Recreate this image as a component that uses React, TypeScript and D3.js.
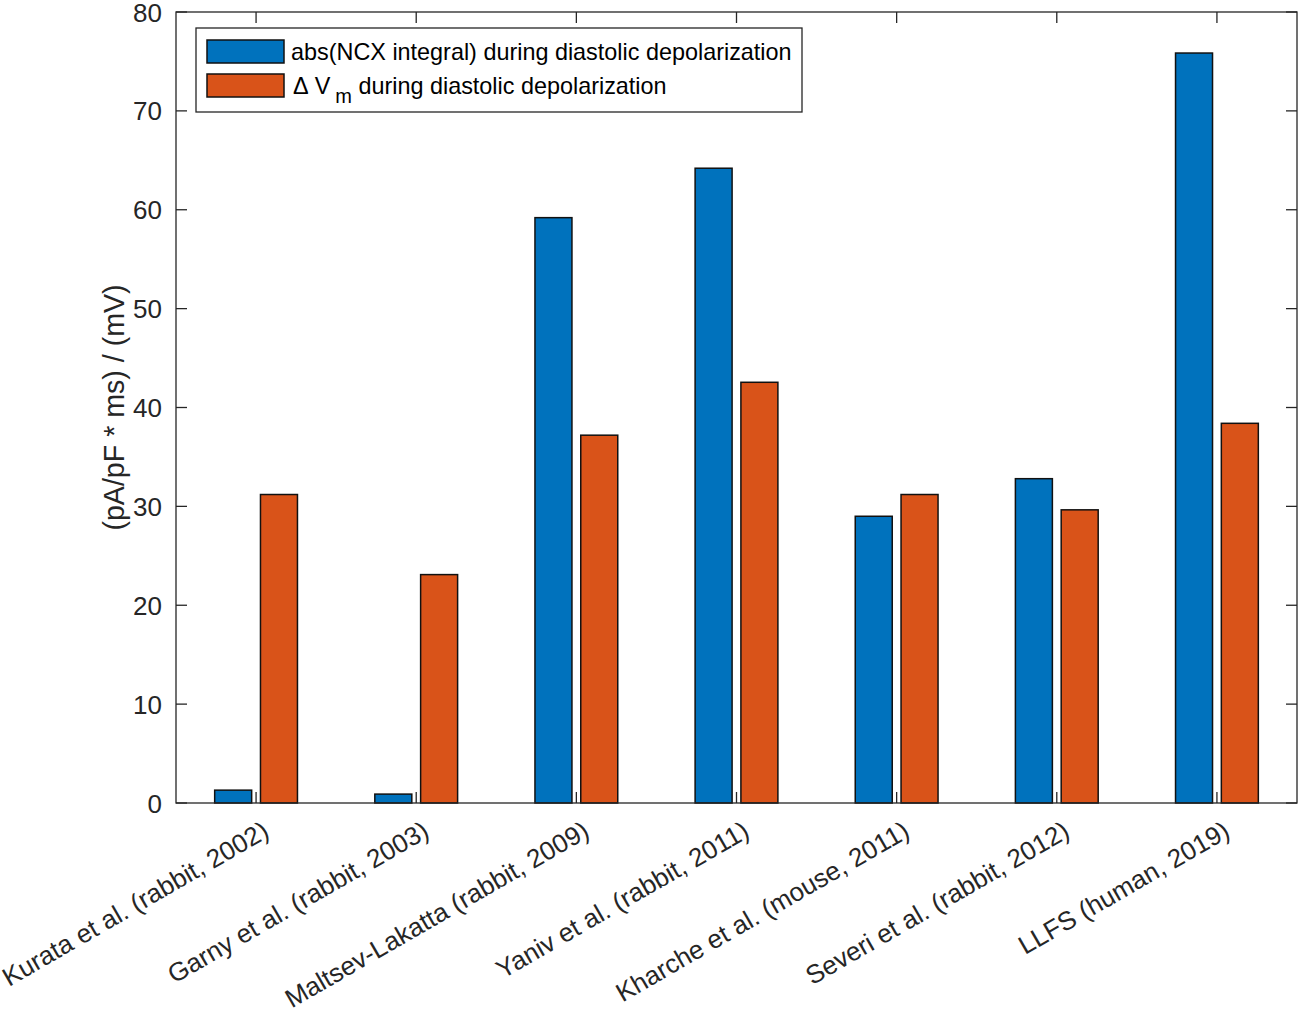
import * as d3 from 'd3';

const categories = [
  'Kurata et al. (rabbit, 2002)',
  'Garny et al. (rabbit, 2003)',
  'Maltsev-Lakatta (rabbit, 2009)',
  'Yaniv et al. (rabbit, 2011)',
  'Kharche et al. (mouse, 2011)',
  'Severi et al. (rabbit, 2012)',
  'LLFS (human, 2019)',
];

const ncxValues = [1.3, 0.9, 59.2, 64.2, 29.0, 32.8, 75.85];
const vmValues = [31.2, 23.1, 37.2, 42.55, 31.2, 29.65, 38.4];

const yTicks = [0, 10, 20, 30, 40, 50, 60, 70, 80];

const seriesNames = ['abs(NCX integral) during diastolic depolarization', 'during diastolic depolarization'];
const seriesColors = ['#0072BD', '#D95319'];

const W = 1299;
const H = 1015;
const margin = { top: 12, right: 2, bottom: 212, left: 176 };
const axisColor = '#262626';
const font = '"Liberation Sans", Arial, Helvetica, sans-serif';
const axisFont = 26;
const labelFont = 28.6;
const legendFont = 23.4;

export default function App() {
  const plotW = W - margin.left - margin.right;
  const plotH = H - margin.top - margin.bottom;

  const x = d3.scaleLinear().domain([0.5, categories.length + 0.5]).range([0, plotW]);
  const y = d3.scaleLinear().domain([0, 80]).range([plotH, 0]);

  const offset = 0.143;
  const barW = x(0.231) - x(0);
  const series = [ncxValues, vmValues];
  const tickLen = 11;

  return (
    <div style={{ position: 'absolute', left: 0, top: 0 }}>
      <svg width={W} height={H} style={{ display: 'block', background: '#fff' }} fontFamily={font}>
        <g transform={`translate(${margin.left},${margin.top})`}>
          {/* bars */}
          {series.map((vals, s) =>
            vals.map((v, i) => {
              const cx = x(i + 1 + (s === 0 ? -offset : offset));
              return (
                <rect
                  key={`${s}-${i}`}
                  x={cx - barW / 2}
                  y={y(v)}
                  width={barW}
                  height={y(0) - y(v)}
                  fill={seriesColors[s]}
                  stroke="#111"
                  strokeWidth={1.5}
                />
              );
            })
          )}

          {/* box */}
          <rect x={0} y={0} width={plotW} height={plotH} fill="none" stroke={axisColor} strokeWidth={1.3} />

          {/* y ticks */}
          {yTicks.map(t => (
            <g key={t}>
              <line x1={0} x2={tickLen} y1={y(t)} y2={y(t)} stroke={axisColor} strokeWidth={1.3} />
              <line x1={plotW} x2={plotW - tickLen} y1={y(t)} y2={y(t)} stroke={axisColor} strokeWidth={1.3} />
              <text x={-14} y={y(t)} dy="0.37em" textAnchor="end" fontSize={axisFont} fill={axisColor}>
                {t}
              </text>
            </g>
          ))}

          {/* x ticks and labels */}
          {categories.map((c, i) => {
            const cx = x(i + 1);
            return (
              <g key={c}>
                <line x1={cx} x2={cx} y1={plotH} y2={plotH - tickLen} stroke={axisColor} strokeWidth={1.3} />
                <line x1={cx} x2={cx} y1={0} y2={tickLen} stroke={axisColor} strokeWidth={1.3} />
                <text
                  transform={`translate(${cx + 10},${plotH + 25}) rotate(-30)`}
                  textAnchor="end"
                  dy="0.35em"
                  fontSize={axisFont}
                  fill={axisColor}
                >
                  {c}
                </text>
              </g>
            );
          })}

          {/* y label */}
          <text
            transform={`translate(-52,${plotH / 2}) rotate(-90)`}
            textAnchor="middle"
            fontSize={labelFont}
            fill={axisColor}
          >
            (pA/pF * ms) / (mV)
          </text>

          {/* legend */}
          <g transform="translate(20,16)">
            <rect x={0} y={0} width={606} height={84} fill="#fff" stroke={axisColor} strokeWidth={1.3} />
            {seriesColors.map((col, s) => (
              <g key={col} transform={`translate(11,${12 + s * 34})`}>
                <rect x={0} y={0} width={77} height={23} fill={col} stroke="#111" strokeWidth={1.5} />
                <text x={84} y={11.5} dy="0.35em" fontSize={legendFont} fill="#000">
                  {s === 0 ? (
                    seriesNames[0]
                  ) : (
                    <>
                      <tspan dx={2}>Δ</tspan>
                      <tspan dx={6}>V</tspan>
                      <tspan dx={5} dy={9} fontSize={20}>m</tspan>
                      <tspan dx={0} dy={-9}>{' ' + seriesNames[1]}</tspan>
                    </>
                  )}
                </text>
              </g>
            ))}
          </g>
        </g>
      </svg>
    </div>
  );
}
